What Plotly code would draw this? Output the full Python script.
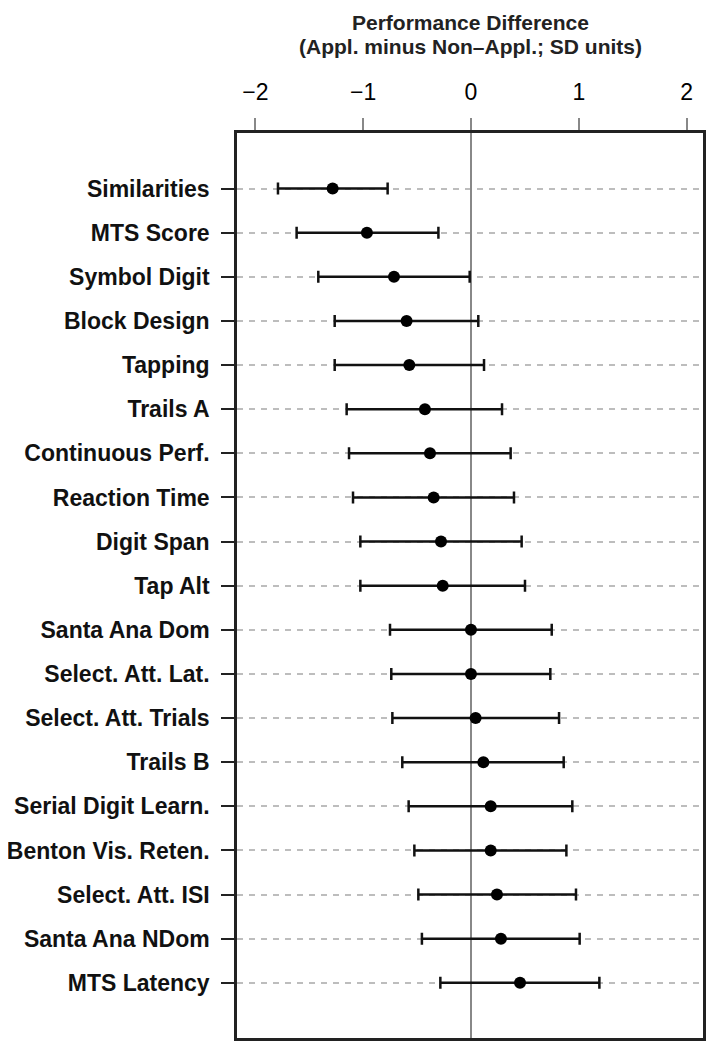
import plotly.graph_objects as go

tests = ["Similarities", "MTS Score", "Symbol Digit", "Block Design", "Tapping",
         "Trails A", "Continuous Perf.", "Reaction Time", "Digit Span", "Tap Alt",
         "Santa Ana Dom", "Select. Att. Lat.", "Select. Att. Trials", "Trails B",
         "Serial Digit Learn.", "Benton Vis. Reten.", "Select. Att. ISI",
         "Santa Ana NDom", "MTS Latency"]
estimate = [-1.283, -0.965, -0.714, -0.597, -0.572, -0.427, -0.380, -0.346, -0.278, -0.262,
            0.0, 0.0, 0.043, 0.115, 0.183, 0.183, 0.241, 0.278, 0.455]
lower = [-1.790, -1.617, -1.416, -1.264, -1.264, -1.153, -1.131, -1.094, -1.026, -1.026,
         -0.751, -0.739, -0.729, -0.637, -0.578, -0.525, -0.488, -0.455, -0.284]
upper = [-0.773, -0.302, -0.012, 0.068, 0.121, 0.288, 0.368, 0.399, 0.470, 0.501,
         0.749, 0.736, 0.817, 0.860, 0.940, 0.885, 0.974, 1.008, 1.191]
x_ticks = [-2, -1, 0, 1, 2]
x_tick_labels = ["\u22122", "\u22121", "0", "1", "2"]
title_lines = ["Performance Difference", "(Appl. minus Non\u2013Appl.; SD units)"]

FONT = "Liberation Sans, Arial, sans-serif"
W, H = 715, 1050
ML, MR, MT, MB = 229, 20, 125, 20
PH = H - MT - MB

fig = go.Figure()
fig.add_trace(go.Scatter(
    x=estimate, y=tests, mode="markers",
    marker=dict(color="black", size=12),
    error_x=dict(type="data", symmetric=False,
                 array=[u - e for u, e in zip(upper, estimate)],
                 arrayminus=[e - l for e, l in zip(estimate, lower)],
                 color="#111111", thickness=2.5, width=6),
    showlegend=False, hoverinfo="skip"))

for line, ypx in zip(title_lines, [14, 38]):
    fig.add_annotation(
        text="<b>" + line + "</b>", showarrow=False,
        xref="paper", x=0.5, xanchor="center",
        yref="paper", y=1 + (MT - ypx) / PH, yanchor="middle",
        font=dict(family=FONT, size=21, color="#222222"))

fig.update_layout(
    width=W, height=H,
    margin=dict(l=ML, r=MR, t=MT, b=MB),
    paper_bgcolor="white", plot_bgcolor="white",
    font=dict(family=FONT, color="black"),
)
fig.update_xaxes(
    side="top", range=[-2.17, 2.152], automargin=False,
    tickmode="array", tickvals=x_ticks, ticktext=x_tick_labels,
    tickfont=dict(family=FONT, size=23, color="black"),
    ticks="outside", ticklen=12, tickwidth=1.5, tickcolor="#888888",
    ticklabelstandoff=9,
    showgrid=False,
    zeroline=True, zerolinecolor="#888888", zerolinewidth=2,
    showline=True, linecolor="#222222", linewidth=2.5, mirror=True,
)
fig.update_yaxes(
    categoryorder="array", categoryarray=tests, automargin=False,
    range=[19.25, -1.26],
    tickfont=dict(family=FONT, size=23, color="#111111"),
    ticks="outside", ticklen=13, tickwidth=1.5, tickcolor="#222222",
    ticklabelstandoff=7,
    showgrid=True, gridcolor="#bdbdbd", gridwidth=1.5, griddash="6px,6px",
    showline=True, linecolor="#222222", linewidth=2.5, mirror=True,
    zeroline=False,
)
fig.update_yaxes(tickprefix="<b>", ticksuffix="</b>")
fig.update_xaxes(tickprefix="<b>", ticksuffix="</b>")

fig.write_html("out.html")
